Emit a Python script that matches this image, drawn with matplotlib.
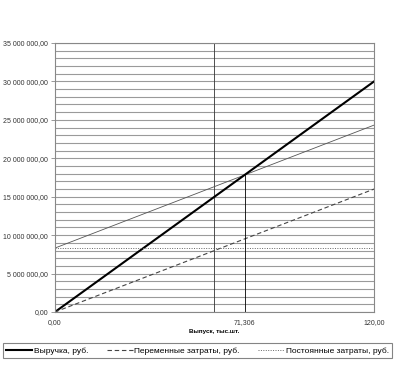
import matplotlib.pyplot as plt
import numpy as np

plt.rcParams['font.family'] = ['Liberation Sans', 'DejaVu Sans']

# данные
x_range = [0, 120]
revenue = [0, 30000000]
variable = [0, 16000000]
fixed = [8319000, 8319000]
total = [8319000, 24319000]
bep_x = 71.306
bep_y = 17826500
x_ticks = [0, 71.306, 120]
x_labels = ['0,00', '71,306', '120,00']
y_ticks = [0, 5000000, 10000000, 15000000, 20000000, 25000000, 30000000, 35000000]
y_labels = ['0,00', '5 000 000,00', '10 000 000,00', '15 000 000,00',
            '20 000 000,00', '25 000 000,00', '30 000 000,00', '35 000 000,00']

fig = plt.figure(figsize=(3.95, 3.66), dpi=100)
ax = fig.add_axes([0.139, 0.1475, 0.808, 0.735])

for v in range(0, 35000001, 1000000):
    ax.axhline(v, color='#9a9a9a', lw=0.8, zorder=0)
ax.axvline(60, color='#333333', lw=0.6, zorder=1)

ax.plot(x_range, total, color='#555555', lw=0.6)
ax.plot(x_range, revenue, color='black', lw=1.5, label='Выручка, руб.')
ax.plot(x_range, variable, color='#444444', lw=0.8, ls=(0, (4, 2.5)), label='Переменные затраты, руб.')
ax.plot(x_range, fixed, color='#666666', lw=0.7, ls=(0, (1, 1.5)), label='Постоянные затраты, руб.')
ax.plot([bep_x, bep_x], [0, bep_y], color='black', lw=0.6)

ax.set_xlim(0, 120)
ax.set_ylim(0, 35000000)
ax.set_xticks(x_ticks)
ax.set_xticklabels(x_labels, fontsize=5, color='#333333')
ax.set_yticks(y_ticks)
ax.set_yticklabels(y_labels, fontsize=5, color='#333333')
ax.tick_params(axis='x', length=0, pad=5)
ax.tick_params(axis='y', length=3, width=0.6, color='#888888', pad=2)
for s in ax.spines.values():
    s.set_color('#888888')
    s.set_linewidth(0.8)
ax.set_xlabel('Выпуск, тыс.шт.', fontsize=4.5, fontweight='bold', labelpad=2)

leg = fig.legend(loc='lower center', bbox_to_anchor=(0.5, 0.022), ncol=3, fontsize=6,
                 frameon=True, fancybox=False, edgecolor='#666666', handlelength=3.1,
                 handletextpad=0.2, columnspacing=2.2, borderpad=0.4, borderaxespad=0)
leg.get_frame().set_linewidth(0.8)

fig.savefig('out.png', dpi=100)
